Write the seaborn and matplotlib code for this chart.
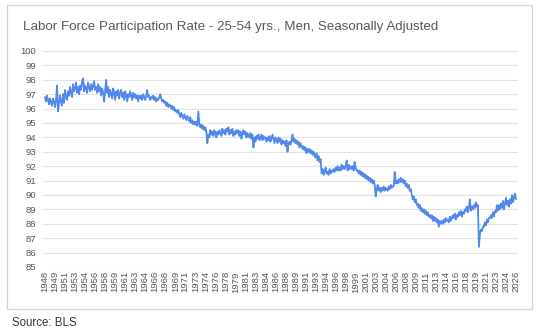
""" Labor force participation rate, prime-age men (BLS) """

import pandas as pd
import matplotlib.pyplot as plt
from matplotlib.patches import Rectangle
import seaborn as sns

# Values, every second month (Jan, Mar, May, Jul, Sep, Nov)
rate_1948_1969 = [
    96.8, 96.5, 96.9, 96.6, 96.3, 96.7,  # 1948
    96.4, 96.2, 96.7, 96.5, 96.1, 96.6,  # 1949
    97.6, 95.8, 96.3, 96.9, 96.5, 96.2,  # 1950
    97.0, 96.4, 97.3, 96.8, 96.6, 97.2,  # 1951
    96.9, 97.5, 97.1, 96.8, 97.7, 97.2,  # 1952
    97.4, 97.8, 97.1, 97.5, 97.0, 97.6,  # 1953
    97.3, 97.9, 98.1, 97.2, 97.6, 97.4,  # 1954
    97.1, 97.8, 97.5, 97.2, 97.7, 97.3,  # 1955
    97.6, 97.9, 97.3, 97.5, 97.1, 97.7,  # 1956
    97.2, 97.5, 96.9, 97.4, 97.1, 96.5,  # 1957
    97.3, 98.0, 97.1, 97.5, 96.8, 97.3,  # 1958
    97.0, 96.7, 97.4, 97.1, 96.6, 97.2,  # 1959
    96.9, 97.3, 96.7, 97.1, 97.3, 96.8,  # 1960
    97.1, 96.6, 97.2, 96.9, 96.5, 97.0,  # 1961
    96.8, 97.2, 96.9, 96.6, 97.1, 96.8,  # 1962
    97.0, 96.7, 96.9, 96.5, 96.9, 96.7,  # 1963
    96.9, 96.6, 97.0, 96.8, 96.6, 96.9,  # 1964
    97.3, 96.8, 96.9, 96.6, 96.8, 96.7,  # 1965
    96.9, 96.6, 96.8, 96.5, 96.7, 96.6,  # 1966
    96.8, 97.0, 96.7, 96.5, 96.6, 96.4,  # 1967
    96.5, 96.2, 96.4, 96.1, 96.3, 96.2,  # 1968
    96.0, 96.2, 95.9, 96.1, 95.8, 95.9,  # 1969
]
rate_1970_1993 = [
    95.7, 95.9, 95.6, 95.4, 95.7, 95.5,  # 1970
    95.3, 95.6, 95.4, 95.2, 95.5, 95.3,  # 1971
    95.1, 95.4, 95.0, 95.2, 94.9, 95.1,  # 1972
    94.9, 95.1, 94.8, 95.8, 94.9, 94.7,  # 1973
    94.9, 94.6, 94.8, 94.5, 94.7, 94.4,  # 1974
    93.6, 94.2, 94.0, 94.5, 94.2, 94.4,  # 1975
    94.1, 94.5, 94.3, 94.0, 94.4, 94.2,  # 1976
    94.5, 94.3, 94.1, 94.6, 94.3, 94.5,  # 1977
    94.2, 94.6, 94.4, 94.7, 94.2, 94.5,  # 1978
    94.3, 94.6, 94.1, 94.4, 94.2, 94.5,  # 1979
    94.3, 94.5, 94.1, 94.4, 93.9, 94.3,  # 1980
    94.5, 94.2, 94.4, 94.0, 94.3, 94.1,  # 1981
    94.0, 94.3, 93.9, 94.2, 93.3, 94.0,  # 1982
    93.7, 94.1, 93.9, 94.2, 93.8, 94.0,  # 1983
    94.2, 93.8, 94.1, 93.9, 94.0, 93.7,  # 1984
    94.0, 93.8, 94.1, 93.7, 93.9, 94.2,  # 1985
    93.9, 93.6, 94.0, 93.8, 93.6, 94.0,  # 1986
    93.7, 93.9, 93.5, 93.8, 93.6, 93.7,  # 1987
    93.4, 93.8, 93.0, 93.6, 93.7, 93.5,  # 1988
    93.8, 94.2, 93.7, 93.9, 93.6, 93.8,  # 1989
    93.5, 93.7, 93.3, 93.6, 93.4, 93.2,  # 1990
    93.4, 93.1, 93.3, 92.9, 93.2, 93.0,  # 1991
    93.2, 92.9, 93.1, 92.8, 93.0, 92.7,  # 1992
    92.6, 92.9, 92.4, 92.7, 92.3, 92.5,  # 1993
]
rate_1994_2026 = [
    91.5, 91.8, 91.4, 91.6, 91.9, 91.5,  # 1994
    91.6, 91.4, 91.8, 91.5, 91.7, 91.6,  # 1995
    91.8, 91.6, 91.9, 91.7, 92.0, 91.7,  # 1996
    91.9, 91.7, 92.1, 91.8, 92.0, 91.8,  # 1997
    92.0, 92.4, 91.7, 92.1, 91.8, 92.0,  # 1998
    91.8, 92.0, 91.7, 92.3, 91.9, 91.7,  # 1999
    91.7, 91.5, 91.7, 91.4, 91.6, 91.3,  # 2000
    91.5, 91.2, 91.4, 91.1, 91.3, 91.0,  # 2001
    91.2, 90.9, 91.1, 90.8, 91.0, 90.7,  # 2002
    89.9, 90.4, 90.7, 90.3, 90.5, 90.2,  # 2003
    90.5, 90.3, 90.6, 90.3, 90.5, 90.4,  # 2004
    90.3, 90.6, 90.4, 90.7, 90.5, 90.6,  # 2005
    90.6, 91.6, 90.8, 91.0, 90.8, 91.1,  # 2006
    90.9, 91.2, 90.9, 91.1, 90.8, 91.0,  # 2007
    90.6, 90.8, 90.5, 90.7, 90.3, 90.4,  # 2008
    90.0, 89.7, 89.9, 89.5, 89.7, 89.3,  # 2009
    89.4, 89.1, 89.3, 88.9, 89.1, 88.8,  # 2010
    89.0, 88.7, 88.9, 88.6, 88.8, 88.5,  # 2011
    88.6, 88.4, 88.6, 88.2, 88.5, 88.2,  # 2012
    88.4, 88.1, 88.3, 87.8, 88.2, 88.0,  # 2013
    88.2, 88.0, 88.3, 88.1, 88.4, 88.2,  # 2014
    88.3, 88.1, 88.5, 88.2, 88.4, 88.6,  # 2015
    88.4, 88.7, 88.3, 88.6, 88.5, 88.8,  # 2016
    88.6, 88.9, 88.5, 88.8, 88.7, 89.0,  # 2017
    88.9, 89.2, 88.8, 89.1, 89.7, 88.9,  # 2018
    89.2, 89.0, 89.3, 89.1, 89.5, 89.2,  # 2019
    89.3, 86.4, 87.3, 87.6, 87.5, 87.8,  # 2020
    87.8, 88.1, 87.9, 88.3, 88.1, 88.4,  # 2021
    88.4, 88.6, 88.4, 88.8, 88.5, 88.9,  # 2022
    88.8, 89.3, 88.9, 89.3, 89.0, 89.4,  # 2023
    89.1, 89.6, 89.0, 89.4, 89.8, 89.3,  # 2024
    89.6, 89.2, 89.7, 89.4, 90.0, 89.5,  # 2025
    89.8, 90.1, 89.7,                    # 2026
]

rate = rate_1948_1969 + rate_1970_1993 + rate_1994_2026
dates = pd.date_range("1948-01-01", periods=len(rate), freq="2MS")
df = pd.DataFrame({"Date": dates, "Rate": rate})

# Axis labels every 20 months, like the original spreadsheet chart
tick_dates = pd.date_range("1948-01-01", "2026-05-01", freq="20MS")
tick_labels = [str(d.year) for d in tick_dates]
y_ticks = list(range(85, 101))

title = "Labor Force Participation Rate - 25-54 yrs., Men, Seasonally Adjusted"
source = "Source: BLS"

sns.set_style("white")
plt.rcParams["font.family"] = ["Liberation Sans", "DejaVu Sans"]

W, H = 542, 335
fig = plt.figure(figsize=(W / 100, H / 100), dpi=100)
ax = fig.add_axes([43 / W, 1 - 267 / H, 475 / W, 216 / H])

sns.lineplot(data=df, x="Date", y="Rate", ax=ax, color="#5088ec", linewidth=1.3)

ax.set_ylim(85, 100)
ax.set_yticks(y_ticks)
ax.set_xlim(pd.Timestamp("1947-09-01"), pd.Timestamp("2026-09-01"))
ax.set_xticks(tick_dates)
ax.set_xticklabels(tick_labels, rotation=90, fontsize=6.8, color="#555555")
ax.tick_params(axis="y", labelsize=6.8, labelcolor="#555555", length=0, pad=5)
ax.tick_params(axis="x", length=0, pad=3)
ax.set_xlabel("")
ax.set_ylabel("")

ax.yaxis.grid(True, color="#e2e2e2", linewidth=0.8)
ax.xaxis.grid(False)
ax.set_axisbelow(True)
sns.despine(ax=ax, left=True, bottom=True)

# outer frame around the chart, with the source note below it
fig.patches.append(Rectangle((7 / W, 1 - 309 / H), 525 / W, 304 / H, transform=fig.transFigure,
                             fill=False, edgecolor="#d4d4d4", linewidth=0.9))
fig.text(23 / W, 1 - 27 / H, title, fontsize=9.6, color="#595959", va="center", ha="left")
fig.text(12 / W, 1 - 323 / H, source, fontsize=8.3, color="#333333", va="center", ha="left")

fig.savefig("out.png", dpi=100)
